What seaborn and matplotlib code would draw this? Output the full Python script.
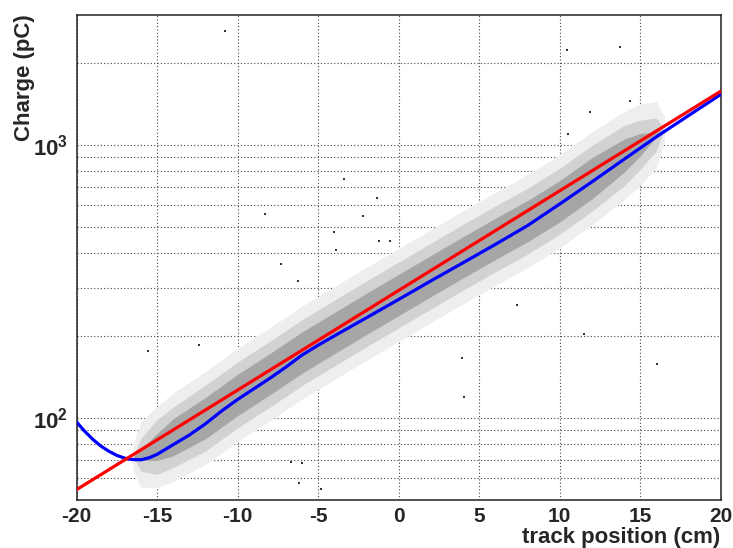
import numpy as np
import pandas as pd
import matplotlib
matplotlib.use("Agg")
import matplotlib.pyplot as plt
import seaborn as sns
from matplotlib.ticker import FixedLocator, MultipleLocator, NullFormatter, FixedFormatter

# ---------------- data ----------------
# exponential fit (red)
fit_x = [-20, -10, 0, 10, 20]
fit_charge = [54.6, 126.4, 292.8, 678.3, 1571]

# profile curve (blue)
prof_x = [-20, -19.5, -19, -18.5, -18, -17.5, -17, -16.5, -16, -15.5, -15, -14, -13, -12, -11, -10,
          -9, -8, -7, -6, -5, -4, -2, 0, 2, 4, 6, 8, 10, 12, 14, 16, 18, 20]
prof_charge = [96.4, 89.2, 83.4, 78.8, 75.4, 72.8, 71.1, 70.3, 70.2, 71.4, 73.5, 79.8, 86.5, 95.1,
               105.9, 116.8, 127.7, 139.6, 153.5, 169.8, 184.5, 199.5, 232.6, 271.4, 317.3, 369.8,
               431.5, 505.8, 606.7, 731.4, 885.1, 1069, 1279, 1528]

# scattered events: centre of the cloud and its spread (multiplicative) at several positions
cloud_x = [-16.5, -16, -15, -14, -12, -10, -8, -6, -4, -2, 0, 2, 4, 6, 8, 10, 12, 14, 15, 16, 16.5]
cloud_center = [71.8, 73.3, 78.2, 84.9, 99.8, 121.3, 144.5, 173.4, 204.2, 240.4, 281.8, 330.4,
                387.3, 451.9, 524.8, 620.9, 753.4, 912.0, 1000, 1091, 1138]
cloud_outer = [1.12, 1.32, 1.41, 1.45, 1.48, 1.48, 1.48, 1.48, 1.48, 1.48, 1.48, 1.48,
               1.48, 1.48, 1.48, 1.48, 1.48, 1.45, 1.41, 1.32, 1.12]
cloud_mid = [1.0, 1.15, 1.26, 1.29, 1.32, 1.32, 1.32, 1.32, 1.32, 1.32, 1.32, 1.32,
             1.32, 1.32, 1.32, 1.32, 1.32, 1.29, 1.23, 1.15, 1.0]
cloud_core = [1.0, 1.05, 1.12, 1.17, 1.19, 1.19, 1.19, 1.19, 1.19, 1.19, 1.19, 1.19,
              1.19, 1.19, 1.19, 1.19, 1.19, 1.15, 1.10, 1.02, 1.0]

# isolated events away from the cloud
outlier_x = [-10.81, -3.40, -1.35, -2.22, -8.29, -4.04, -1.20, -0.56, -3.88, -7.33, -6.27,
             10.43, 13.75, 14.37, 11.88, 10.53, 7.37, 11.51, 16.04, 3.91, 4.07,
             -6.69, -6.02, -6.19, -4.83, -15.59, -12.39]
outlier_charge = [2607, 748, 641, 547, 560, 479, 443, 446, 411, 367, 316,
                  2223, 2280, 1445, 1316, 1091, 258, 202, 158, 166, 119,
                  68.7, 68.1, 57.8, 55.0, 175, 185]

x_ticks = [-20, -15, -10, -5, 0, 5, 10, 15, 20]
y_major = [100, 1000]
y_major_labels = ["$10^{2}$", "$10^{3}$"]
y_minor = [60, 70, 80, 90, 200, 300, 400, 500, 600, 700, 800, 900, 2000]

# ---------------- style ----------------
sns.set_style("white")
plt.rcParams["font.family"] = ["Liberation Sans", "DejaVu Sans"]
plt.rcParams["font.weight"] = "bold"
plt.rcParams["axes.unicode_minus"] = False
plt.rcParams["mathtext.fontset"] = "custom"
plt.rcParams["mathtext.rm"] = "Liberation Sans:bold"
plt.rcParams["mathtext.it"] = "Liberation Sans:bold"
plt.rcParams["mathtext.bf"] = "Liberation Sans:bold"
plt.rcParams["mathtext.default"] = "rm"

fig = plt.figure(figsize=(7.33, 5.48), dpi=100)
ax = fig.add_axes([0.10464, 0.08759, 0.8786, 0.88595])
ax.set_yscale("log")

cx = np.array(cloud_x)
cc = np.array(cloud_center)
for spread, col in [(cloud_outer, "#eeeeee"), (cloud_mid, "#d2d2d2"), (cloud_core, "#a6a6a6")]:
    s = np.array(spread)
    ax.fill_between(cx, cc / s, cc * s, color=col, linewidth=0, zorder=1)

out_df = pd.DataFrame({"x": outlier_x, "q": outlier_charge})
sns.scatterplot(data=out_df, x="x", y="q", ax=ax, s=3, color="#333333", marker="s",
                linewidth=0, zorder=2, legend=False)

prof_df = pd.DataFrame({"x": prof_x, "q": prof_charge})
fit_df = pd.DataFrame({"x": fit_x, "q": fit_charge})
sns.lineplot(data=prof_df, x="x", y="q", ax=ax, color="#0000ff", linewidth=2.3, zorder=4)
sns.lineplot(data=fit_df, x="x", y="q", ax=ax, color="#ff0000", linewidth=2.3, zorder=5)

ax.set_xlim(-20, 20)
ax.set_ylim(50, 3000)

ax.xaxis.set_major_locator(FixedLocator(x_ticks))
ax.xaxis.set_minor_locator(MultipleLocator(1))
ax.yaxis.set_major_locator(FixedLocator(y_major))
ax.yaxis.set_major_formatter(FixedFormatter(y_major_labels))
ax.yaxis.set_minor_locator(FixedLocator(y_minor))
ax.yaxis.set_minor_formatter(NullFormatter())

ax.tick_params(axis="x", which="major", direction="in", length=10.8, width=1.1,
               labelsize=15, pad=5, top=False, color="#222222")
ax.tick_params(axis="x", which="minor", direction="in", length=5.4, width=1.0,
               top=False, color="#222222")
ax.tick_params(axis="y", which="major", direction="in", length=14, width=1.1,
               labelsize=16, pad=6, right=False, color="#222222")
ax.tick_params(axis="y", which="minor", direction="in", length=7.2, width=1.0,
               right=False, color="#222222")

grid_kw = dict(color="#444444", linestyle=(0, (1, 2)), linewidth=0.8)
ax.grid(True, which="major", axis="x", **grid_kw)
ax.grid(True, which="both", axis="y", **grid_kw)
ax.set_axisbelow(True)

for sp in ax.spines.values():
    sp.set_color("#222222")
    sp.set_linewidth(1.1)

ax.set_xlabel("track position (cm)", loc="right", fontsize=16, fontweight="bold")
ax.xaxis.label.set_va("baseline")
ax.xaxis.set_label_coords(1.0, -0.089)
ax.set_ylabel("Charge (pC)", loc="top", fontsize=16, fontweight="bold")
ax.yaxis.set_label_coords(-0.064, 1.0)

fig.savefig("out.png", dpi=100)
